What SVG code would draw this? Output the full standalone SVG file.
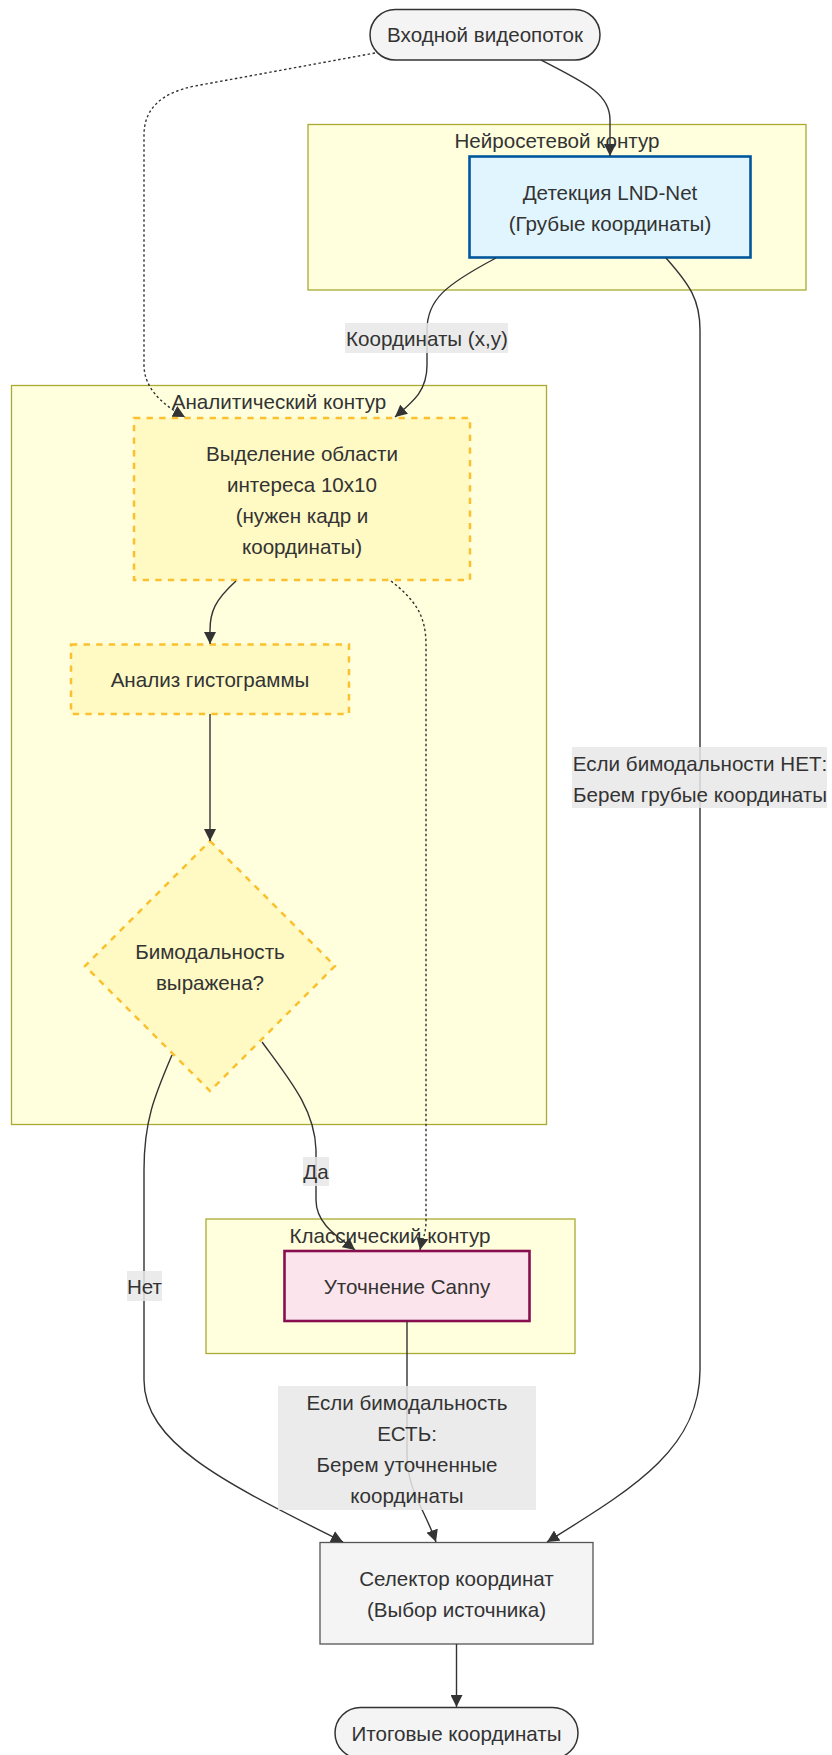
<svg xmlns="http://www.w3.org/2000/svg" width="832" height="1755" viewBox="0 0 832 1755">
<style>
text{font-family:"Liberation Sans",Arial,sans-serif;font-size:20.6px;fill:#333;text-anchor:middle;dominant-baseline:central}
.cluster{fill:#ffffde;stroke:#aaaa33;stroke-width:1.3}
.term{fill:#f4f4f4;stroke:#333;stroke-width:1.5}
.neural{fill:#e1f5fe;stroke:#01579b;stroke-width:2.6}
.analytic{fill:#fff9c4;stroke:#fbc02d;stroke-width:2.5;stroke-dasharray:6.3 6.3}
.classic{fill:#fce4ec;stroke:#880e4f;stroke-width:2.6}
.sel{fill:#f4f4f4;stroke:#555;stroke-width:1.3}
.edge{fill:none;stroke:#333;stroke-width:1.4;marker-end:url(#arrow)}
.dotted{stroke-dasharray:2.5 2.5}
.lbl{fill:#e8e8e8;opacity:0.85}
</style>
<defs>
<marker id="arrow" viewBox="0 0 10 10" refX="10" refY="5" markerUnits="userSpaceOnUse" markerWidth="12" markerHeight="12" orient="auto">
<path d="M0,0 L10,5 L0,10 z" fill="#333"/>
</marker>
</defs>

<g id="cluster-neural">
<rect class="cluster" x="308" y="124.5" width="498" height="165.5"/>
<text x="557" y="140">Нейросетевой контур</text>
</g>
<g id="cluster-analytic">
<rect class="cluster" x="11.5" y="385.5" width="535" height="739"/>
<text x="279" y="401">Аналитический контур</text>
</g>
<g id="cluster-classic">
<rect class="cluster" x="206" y="1219" width="369" height="134.5"/>
<text x="390" y="1235">Классический контур</text>
</g>

<g id="node-input">
<rect class="term" x="370" y="9.5" width="230" height="50.5" rx="25.25"/>
<text x="485" y="34.5">Входной видеопоток</text>
</g>
<g id="node-lnd">
<rect class="neural" x="469.5" y="156.5" width="281" height="101"/>
<text x="610" y="192.5">Детекция LND-Net</text>
<text x="610" y="223">(Грубые координаты)</text>
</g>
<g id="node-roi">
<rect class="analytic" x="134" y="418" width="336" height="162"/>
<text x="302" y="453.5">Выделение области</text>
<text x="302" y="484">интереса 10x10</text>
<text x="302" y="515.5">(нужен кадр и</text>
<text x="302" y="546.5">координаты)</text>
</g>
<g id="node-hist">
<rect class="analytic" x="71" y="644.5" width="278" height="69.5"/>
<text x="210" y="679.5">Анализ гистограммы</text>
</g>
<g id="node-bimodal">
<polygon class="analytic" points="210,841 335,966 210,1091 85,966"/>
<text x="210" y="951">Бимодальность</text>
<text x="210" y="982">выражена?</text>
</g>
<g id="node-canny">
<rect class="classic" x="284.5" y="1251" width="245" height="70"/>
<text x="407" y="1286">Уточнение Canny</text>
</g>
<g id="node-selector">
<rect class="sel" x="320" y="1542.5" width="273" height="101.5"/>
<text x="456.5" y="1578">Селектор координат</text>
<text x="456.5" y="1609.5">(Выбор источника)</text>
</g>
<g id="node-final">
<rect class="term" x="335" y="1707.5" width="243" height="51" rx="25.5"/>
<text x="456.5" y="1733">Итоговые координаты</text>
</g>

<g id="connectors">
<path class="edge" d="M541,60 C590,85 610,95 610,120 L610,156"/>
<path class="edge dotted" d="M375,53 L195,86 Q144,96 144,135 L144,365 Q144,395 185,417"/>
<path class="edge" d="M496,258 C445,285 427,300 427,330 L427,365 C427,390 415,400 395,417"/>
<path class="edge" d="M666,258 C690,285 700,300 700,330 L700,1370 C700,1450 630,1490 547,1542"/>
<path class="edge" d="M236,581 C215,600 210,612 210,630 L210,644"/>
<path class="edge" d="M210,714 L210,841"/>
<path class="edge dotted" d="M391,581 C415,600 426,615 426,645 L426,1220 C426,1235 422,1240 420,1250"/>
<path class="edge" d="M262,1042 C290,1080 315,1110 316,1150 L316,1200 C316,1225 340,1238 355,1250"/>
<path class="edge" d="M172,1055 C155,1095 144,1120 144,1170 L144,1380 C144,1445 230,1485 343,1542"/>
<path class="edge" d="M407,1321 L407,1455 C407,1490 425,1510 436,1542"/>
<path class="edge" d="M456.5,1644 L456.5,1707"/>

<g id="label-coords">
<rect class="lbl" x="345" y="323" width="163" height="30"/>
<text x="427" y="338">Координаты (x,y)</text>
</g>
<g id="label-no-bimodal">
<rect class="lbl" x="572" y="747" width="255" height="61"/>
<text x="700" y="763">Если бимодальности НЕТ:</text>
<text x="700" y="794">Берем грубые координаты</text>
</g>
<g id="label-yes">
<rect class="lbl" x="303" y="1157" width="26" height="29"/>
<text x="316" y="1171.5">Да</text>
</g>
<g id="label-no">
<rect class="lbl" x="127" y="1271" width="35" height="30"/>
<text x="144.5" y="1286">Нет</text>
</g>
<g id="label-bimodal-yes">
<rect class="lbl" x="278" y="1386" width="258" height="124"/>
<text x="407" y="1402">Если бимодальность</text>
<text x="407" y="1433.5">ЕСТЬ:</text>
<text x="407" y="1464.5">Берем уточненные</text>
<text x="407" y="1495.5">координаты</text>
</g>
</g>
</svg>
